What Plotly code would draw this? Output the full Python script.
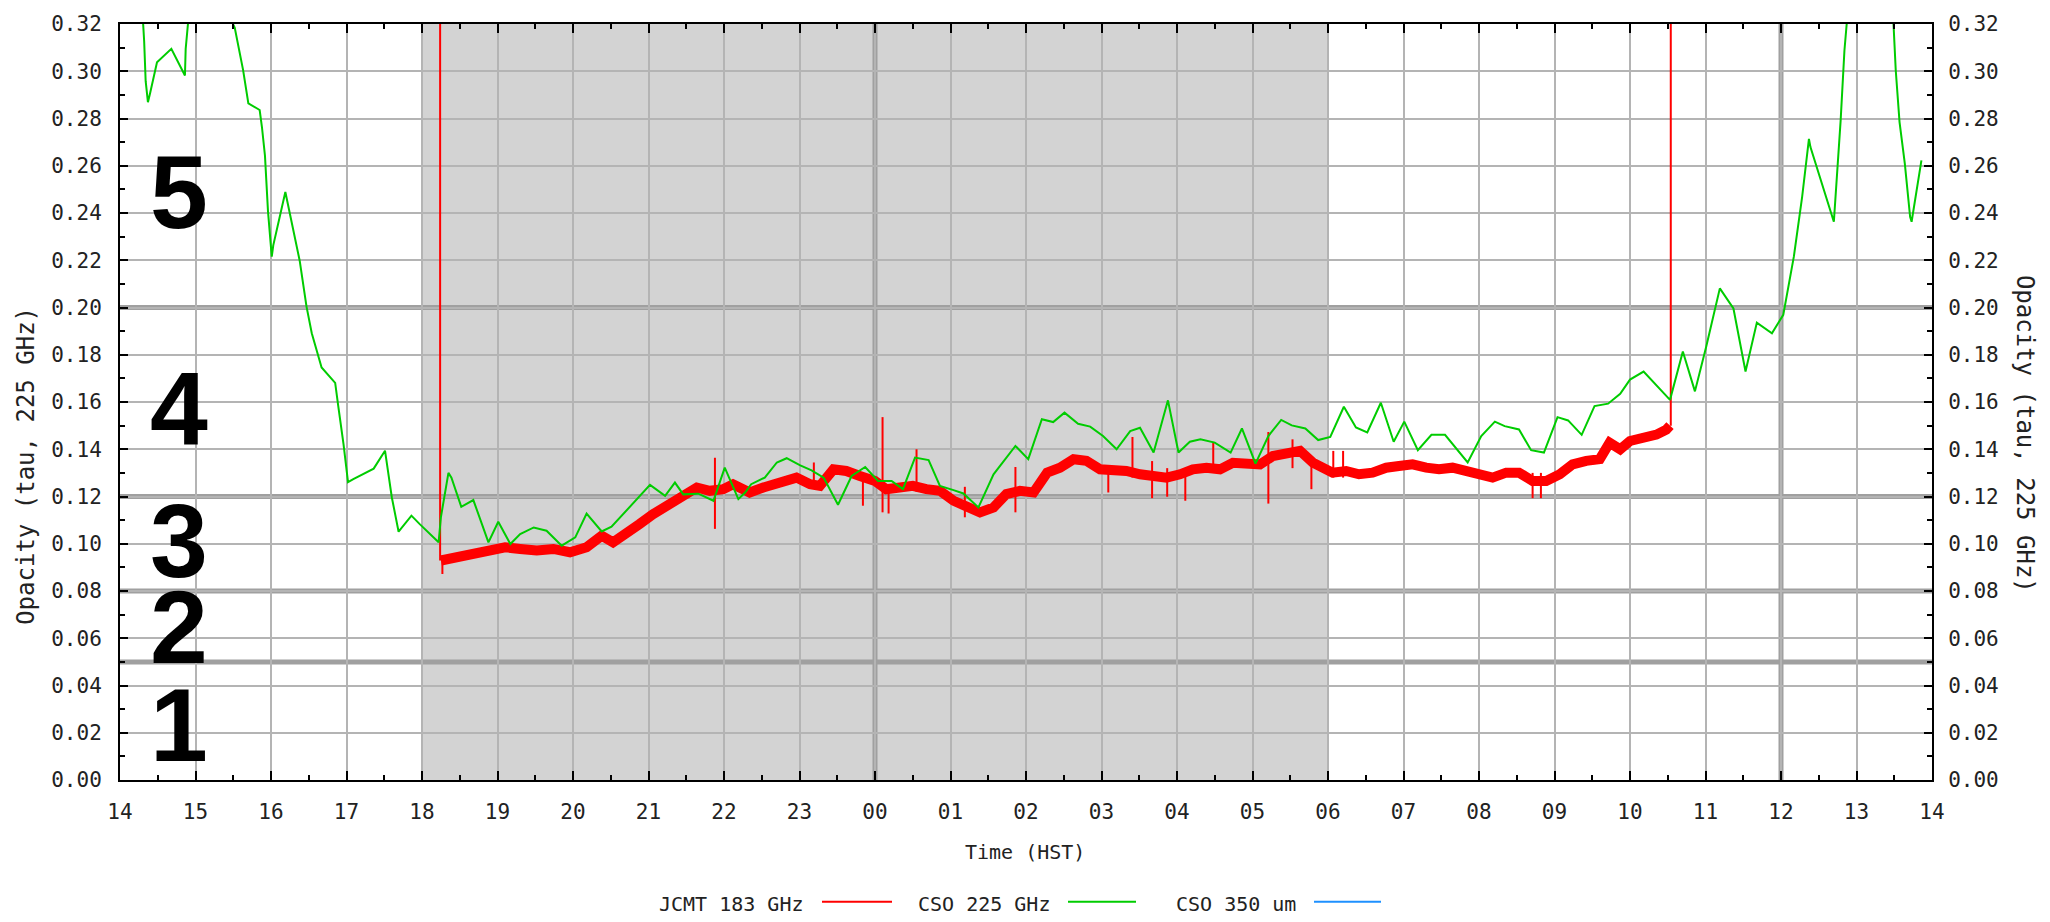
import plotly.graph_objects as go

# ---------------- data ----------------
x_tick_vals = list(range(14, 39))
x_tick_labels = ["14", "15", "16", "17", "18", "19", "20", "21", "22", "23",
                 "00", "01", "02", "03", "04", "05", "06", "07", "08", "09",
                 "10", "11", "12", "13", "14"]
x_minor_vals = [h + 0.5 for h in range(14, 38)]
y_tick_vals = [i / 100 for i in range(0, 33, 2)]
y_tick_labels = ["%.2f" % v for v in y_tick_vals]
y_minor_vals = [i / 100 for i in range(1, 33, 2)]

night_start, night_end = 18, 30          # 18:00 -> 06:00 shading
band_edges = [0.05, 0.08, 0.12, 0.20]    # weather band boundaries
noon_midnight = [24, 36]                 # thick vertical lines (00, 12)
band_labels = ["1", "2", "3", "4", "5"]
band_label_y = [0.0234, 0.0648, 0.1013, 0.157, 0.249]
band_label_x = 14.78

# CSO 225 GHz (hours since 00 of first day; >24 = next day)
cso_t = [14.27, 14.31, 14.32, 14.34, 14.37, 14.40, 14.49, 14.68, 14.86, 14.87,
         14.90, 15.20, 15.52, 15.63, 15.70, 15.85, 15.88, 15.92, 15.96, 16.01,
         16.03, 16.19, 16.27, 16.38, 16.47, 16.54, 16.67, 16.72, 16.85, 16.89,
         16.96, 17.02, 17.09, 17.36, 17.51, 17.60, 17.69, 17.86, 17.97, 18.22,
         18.25, 18.35, 18.39, 18.52, 18.68, 18.88, 19.01, 19.17, 19.30, 19.48,
         19.65, 19.85, 20.03, 20.18, 20.38, 20.51, 21.02, 21.22, 21.35, 21.46,
         21.66, 21.86, 22.01, 22.19, 22.28, 22.36, 22.54, 22.70, 22.83, 23.01,
         23.16, 23.32, 23.51, 23.69, 23.87, 24.04, 24.22, 24.37, 24.53, 24.71,
         24.86, 25.04, 25.17, 25.37, 25.57, 25.86, 26.03, 26.21, 26.36, 26.51,
         26.69, 26.85, 27.02, 27.20, 27.38, 27.51, 27.69, 27.88, 28.02, 28.17,
         28.31, 28.50, 28.71, 28.86, 29.04, 29.21, 29.38, 29.52, 29.70, 29.87,
         30.03, 30.21, 30.37, 30.52, 30.70, 30.87, 31.01, 31.19, 31.37, 31.55,
         31.85, 32.03, 32.21, 32.34, 32.53, 32.69, 32.86, 33.04, 33.18, 33.36,
         33.53, 33.71, 33.87, 34.00, 34.18, 34.53, 34.70, 34.86, 35.01, 35.19,
         35.37, 35.53, 35.68, 35.88, 36.03, 36.17, 36.28, 36.37, 36.39, 36.70,
         36.75, 36.79, 36.84, 36.87, 37.20, 37.49, 37.52, 37.57, 37.64, 37.71,
         37.73, 37.82, 37.86]
cso_v = [0.340, 0.320, 0.3127, 0.2958, 0.2869, 0.2909, 0.3038, 0.3095, 0.2982, 0.3095,
         0.320, 0.340, 0.3184, 0.3006, 0.2864, 0.2836, 0.2764, 0.2643, 0.2408, 0.2215,
         0.2263, 0.2489, 0.2368, 0.2198, 0.2005, 0.1891, 0.1746, 0.1727, 0.1681, 0.1585,
         0.1423, 0.1261, 0.1274, 0.1318, 0.1394, 0.1197, 0.1051, 0.1119, 0.1083, 0.1006,
         0.1112, 0.1300, 0.1280, 0.1156, 0.1185, 0.1006, 0.1093, 0.0999, 0.1041, 0.1069,
         0.1055, 0.0992, 0.1027, 0.1128, 0.1052, 0.1072, 0.1249, 0.1203, 0.1259, 0.1209,
         0.1212, 0.1182, 0.1322, 0.1189, 0.1217, 0.1252, 0.1280, 0.1344, 0.1362, 0.1332,
         0.1311, 0.1280, 0.1165, 0.1287, 0.1325, 0.1266, 0.1266, 0.1231, 0.1365, 0.1354,
         0.1245, 0.1227, 0.1213, 0.1154, 0.1294, 0.1414, 0.1358, 0.1527, 0.1515, 0.1555,
         0.1508, 0.1496, 0.1456, 0.1400, 0.1477, 0.1491, 0.1386, 0.1607, 0.1386, 0.1432,
         0.1442, 0.1428, 0.1386, 0.1488, 0.1339, 0.1456, 0.1524, 0.1501, 0.1488, 0.1439,
         0.1452, 0.1580, 0.1492, 0.1471, 0.1597, 0.1432, 0.1517, 0.1396, 0.1461, 0.1461,
         0.1344, 0.1456, 0.1517, 0.1498, 0.1484, 0.1396, 0.1386, 0.1536, 0.1522, 0.1461,
         0.1583, 0.1593, 0.1635, 0.1695, 0.1729, 0.1609, 0.1814, 0.1645, 0.1835, 0.2081,
         0.1996, 0.1729, 0.1936, 0.1891, 0.1969, 0.2215, 0.2468, 0.2714, 0.2679, 0.2363,
         0.2609, 0.2792, 0.3087, 0.320, 0.340, 0.320, 0.3003, 0.2785, 0.2609, 0.2384,
         0.2363, 0.2553, 0.2623]

# JCMT 183 GHz - smoothed centre of the noisy band
jcmt_t = [18.25, 18.43, 18.65, 18.87, 19.10, 19.30, 19.52, 19.74, 19.96, 20.18,
          20.38, 20.53, 20.71, 20.88, 21.06, 21.28, 21.46, 21.64, 21.81, 21.99,
          22.12, 22.34, 22.52, 22.74, 22.96, 23.14, 23.27, 23.45, 23.62, 23.80,
          24.00, 24.15, 24.33, 24.50, 24.68, 24.86, 25.04, 25.21, 25.39, 25.57,
          25.74, 25.92, 26.10, 26.28, 26.45, 26.63, 26.80, 26.98, 27.15, 27.33,
          27.51, 27.69, 27.86, 28.04, 28.21, 28.39, 28.57, 28.74, 28.92, 29.10,
          29.27, 29.45, 29.63, 29.80, 29.98, 30.06, 30.24, 30.41, 30.59, 30.77,
          30.94, 31.12, 31.30, 31.47, 31.65, 31.83, 32.00, 32.18, 32.36, 32.53,
          32.71, 32.89, 33.07, 33.24, 33.42, 33.60, 33.73, 33.87, 34.00, 34.18,
          34.35, 34.48, 34.53]
jcmt_v = [0.0929, 0.0943, 0.0957, 0.0978, 0.0985, 0.0978, 0.0971, 0.0978, 0.0964, 0.0985,
          0.1034, 0.1006, 0.1041, 0.1083, 0.1125, 0.1168, 0.1210, 0.1238, 0.1224, 0.1231,
          0.1252, 0.1217, 0.1238, 0.1259, 0.1280, 0.1252, 0.1245, 0.1315, 0.1308, 0.1287,
          0.1266, 0.1231, 0.1238, 0.1245, 0.1231, 0.1224, 0.1182, 0.1154, 0.1133, 0.1154,
          0.1210, 0.1224, 0.1217, 0.1301, 0.1322, 0.1358, 0.1351, 0.1315, 0.1315, 0.1308,
          0.1294, 0.1287, 0.1280, 0.1294, 0.1315, 0.1322, 0.1315, 0.1343, 0.1343, 0.1336,
          0.1371, 0.1379, 0.1393, 0.1343, 0.1308, 0.1301, 0.1308, 0.1294, 0.1301, 0.1322,
          0.1329, 0.1336, 0.1322, 0.1315, 0.1322, 0.1308, 0.1294, 0.1280, 0.1301, 0.1301,
          0.1266, 0.1266, 0.1294, 0.1336, 0.1351, 0.1358, 0.1428, 0.1400, 0.1435, 0.1448,
          0.1462, 0.1483, 0.1500]

# JCMT 183 GHz - isolated spikes (incl. start / end of record)
jcmt_spike_t = [18.24, 18.27, 21.88, 23.19, 23.84, 24.10, 24.18, 24.55, 25.19, 25.86,
                27.09, 27.41, 27.67, 27.87, 28.11, 28.48, 29.21, 29.53, 29.78, 30.07,
                30.20, 32.71, 32.82, 34.54]
jcmt_spike_hi = [0.330, 0.095, 0.1364, 0.1344, 0.130, 0.1536, 0.124, 0.1400, 0.1241, 0.1325,
                 0.132, 0.1452, 0.135, 0.132, 0.131, 0.1431, 0.1473, 0.1442, 0.134, 0.1393,
                 0.1393, 0.130, 0.130, 0.330]
jcmt_spike_lo = [0.0929, 0.0872, 0.1063, 0.125, 0.1161, 0.1133, 0.1128, 0.122, 0.1112, 0.1133,
                 0.1217, 0.128, 0.1193, 0.1199, 0.1182, 0.130, 0.1170, 0.132, 0.1231, 0.128,
                 0.128, 0.1193, 0.1193, 0.1500]

series_names = ["JCMT 183 GHz", "CSO 225 GHz", "CSO 350 um"]
series_colors = ["#ff0000", "#00cc00", "#1e90ff"]

# ---------------- geometry ----------------
W, H = 2050, 922
L, R, T, B = 120, 1932, 22, 780
mono = "DejaVu Sans Mono"


def pxp(x):
    return (x - L) / (R - L)


def pyp(y):
    return (B - y) / (B - T)


fig = go.Figure()

fig.add_trace(go.Scatter(x=jcmt_t, y=jcmt_v, mode="lines",
                         line=dict(color=series_colors[0], width=10),
                         showlegend=False, hoverinfo="skip"))
sx, sy = [], []
for t, hi, lo in zip(jcmt_spike_t, jcmt_spike_hi, jcmt_spike_lo):
    sx += [t, t, None]
    sy += [hi, lo, None]
fig.add_trace(go.Scatter(x=sx, y=sy, mode="lines",
                         line=dict(color=series_colors[0], width=2),
                         showlegend=False, hoverinfo="skip"))
fig.add_trace(go.Scatter(x=cso_t, y=cso_v, mode="lines", yaxis="y2",
                         line=dict(color=series_colors[1], width=2),
                         showlegend=False, hoverinfo="skip"))

# night shading
fig.add_shape(type="rect", xref="x", yref="paper", x0=night_start, x1=night_end,
              y0=0, y1=1, fillcolor="#d3d3d3", line=dict(width=0), layer="below")
for e in band_edges:
    fig.add_shape(type="line", xref="paper", yref="y", x0=0, x1=1, y0=e, y1=e,
                  line=dict(color="#a0a0a0", width=5), layer="between")
for v in noon_midnight:
    fig.add_shape(type="line", xref="x", yref="paper", x0=v, x1=v, y0=0, y1=1,
                  line=dict(color="#a0a0a0", width=5), layer="between")

annotations = []
for lab, yv in zip(band_labels, band_label_y):
    annotations.append(dict(x=band_label_x, y=yv, xref="x", yref="y",
                            text="<b>%s</b>" % lab,
                            showarrow=False, xanchor="center", yanchor="middle",
                            font=dict(family="Liberation Sans", size=104, color="black")))

title_font = dict(family=mono, size=24, color="#222")
annotations.append(dict(x=pxp(26), y=pyp(465), xref="paper", yref="paper",
                        text="Opacity (tau, 225 GHz)", textangle=-90, showarrow=False,
                        xanchor="center", yanchor="middle", font=title_font))
annotations.append(dict(x=pxp(2025), y=pyp(433), xref="paper", yref="paper",
                        text="Opacity (tau, 225 GHz)", textangle=90, showarrow=False,
                        xanchor="center", yanchor="middle", font=title_font))
annotations.append(dict(x=pxp(1025), y=pyp(852), xref="paper", yref="paper",
                        text="Time (HST)", showarrow=False,
                        xanchor="center", yanchor="middle",
                        font=dict(family=mono, size=20, color="#222")))

# custom legend: text then line sample
leg_text_right = [806, 1052, 1298]
leg_line = [(822, 892), (1068, 1136), (1314, 1381)]
leg_y = 904
for name, col, xr, (l0, l1) in zip(series_names, series_colors, leg_text_right, leg_line):
    annotations.append(dict(x=pxp(xr), y=pyp(leg_y), xref="paper", yref="paper",
                            text=name, showarrow=False, xanchor="right", yanchor="middle",
                            font=dict(family=mono, size=20, color="#222")))
    fig.add_shape(type="line", xref="paper", yref="paper", x0=pxp(l0), x1=pxp(l1),
                  y0=pyp(leg_y - 2), y1=pyp(leg_y - 2), line=dict(color=col, width=2))

tickfont = dict(family=mono, size=21, color="#222")
common_y = dict(range=[0, 0.32], tickmode="array", tickvals=y_tick_vals,
                ticktext=y_tick_labels, ticks="inside", ticklen=8, tickwidth=2,
                tickcolor="black", showline=True, linecolor="black", linewidth=2,
                zeroline=False, tickfont=tickfont, fixedrange=True,
                minor=dict(tickmode="array", tickvals=y_minor_vals, ticks="inside",
                           ticklen=5, tickwidth=2, tickcolor="black", showgrid=False))

fig.update_layout(
    width=W, height=H, autosize=False,
    margin=dict(l=L, r=W - R, t=T, b=H - B, pad=0),
    paper_bgcolor="white", plot_bgcolor="white",
    showlegend=False,
    xaxis=dict(range=[14, 38], tickmode="array", tickvals=x_tick_vals,
               ticktext=x_tick_labels, ticks="inside", ticklen=9, tickwidth=2,
               tickcolor="black", showline=True, linecolor="black", linewidth=2,
               mirror="ticks", showgrid=True, gridcolor="#b4b4b4", gridwidth=2,
               zeroline=False, tickfont=tickfont, ticklabelstandoff=12,
               minor=dict(tickmode="array", tickvals=x_minor_vals, ticks="inside",
                          ticklen=5, tickwidth=2, tickcolor="black", showgrid=False)),
    yaxis=dict(**common_y, side="left", showgrid=True, gridcolor="#b4b4b4",
               gridwidth=2, ticklabelstandoff=12),
    yaxis2=dict(**common_y, side="right", overlaying="y", showgrid=False,
                ticklabelstandoff=10),
    annotations=annotations,
)

fig.write_html("out.html")
